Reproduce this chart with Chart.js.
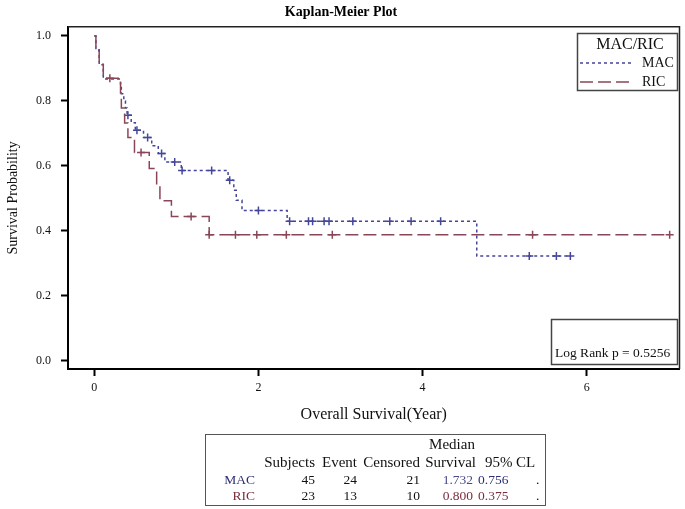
<!DOCTYPE html>
<html><head><meta charset="utf-8">
<script src="https://cdn.jsdelivr.net/npm/chart.js@4"></script>
<style>
html,body{margin:0;padding:0;background:#fff;}
#wrap{position:relative;width:685px;height:509px;overflow:hidden;}
#c{position:absolute;left:0;top:0;}
#tbl{position:absolute;left:205px;top:434px;width:341px;height:72px;border:1.5px solid #555;box-sizing:border-box;}
.c{position:absolute;white-space:nowrap;line-height:16px;height:16px;font-family:"Liberation Serif","Times New Roman",serif;font-size:15px;color:#111;}
.n{font-size:13.5px;}
</style></head>
<body>
<div id="wrap"><canvas id="c" width="685" height="509"></canvas><div id="tbl"></div></div>
<script>
// ---- data ----
const groupNames = ['MAC', 'RIC'];
// MAC: event times and survival right after each event (first point = start)
const macTimes = [0, 0.02, 0.06, 0.11, 0.32, 0.33, 0.36, 0.38, 0.40, 0.45, 0.50, 0.60, 0.70, 0.78, 0.86, 1.06, 1.63, 1.70, 1.73, 1.80, 2.35, 4.66];
const macSurv  = [1.0, 0.956, 0.911, 0.867, 0.844, 0.822, 0.800, 0.778, 0.756, 0.733, 0.710, 0.687, 0.662, 0.638, 0.612, 0.586, 0.556, 0.525, 0.494, 0.463, 0.430, 0.323];
const macCensored = [0.41, 0.52, 0.65, 0.82, 0.98, 1.07, 1.43, 1.65, 2.00, 2.38, 2.61, 2.66, 2.80, 2.86, 3.15, 3.60, 3.86, 4.22, 5.30, 5.63, 5.80];
// RIC
const ricTimes = [0, 0.02, 0.06, 0.11, 0.32, 0.33, 0.37, 0.41, 0.49, 0.67, 0.76, 0.80, 0.94, 1.40];
const ricSurv  = [1.0, 0.957, 0.913, 0.870, 0.824, 0.778, 0.732, 0.687, 0.641, 0.592, 0.542, 0.493, 0.444, 0.388];
const ricCensored = [0.19, 0.57, 1.18, 1.40, 1.72, 1.98, 2.34, 2.90, 5.34, 7.01];
// axis ticks
const xTicks = [0, 2, 4, 6];
const yTicks = [0.0, 0.2, 0.4, 0.6, 0.8, 1.0];
// summary table
const tableHeader1 = ['Median'];
const tableHeader2 = ['Subjects', 'Event', 'Censored', 'Survival', '95%', 'CL'];
const subjects = [45, 23];
const events = [24, 13];
const censored = [21, 10];
const medianSurvival = ['1.732', '0.800'];
const lowerCL = ['0.756', '0.375'];
const upperCL = ['.', '.'];
const logRankText = 'Log Rank p = 0.5256';
const legendTitle = 'MAC/RIC';

// ---- styles ----
const SERIF = '"Liberation Serif","Times New Roman",serif';
const colMAC = '#45459a';
const colRIC = '#8a4656';
const dashMAC = [3, 3];
const dashRIC = [13, 5];

function stepPts(times, surv, endT) {
  const pts = times.map((t, i) => ({x: t, y: surv[i]}));
  pts.push({x: endT, y: surv[surv.length - 1]});
  return pts;
}
function survAt(times, surv, t) {
  let s = surv[0];
  for (let i = 0; i < times.length; i++) if (times[i] <= t) s = surv[i];
  return s;
}
const macEnd = macCensored[macCensored.length - 1];
const ricEnd = ricCensored[ricCensored.length - 1];

Chart.defaults.font.family = SERIF;
Chart.defaults.color = '#111';

const decor = {
  id: 'decor',
  afterDraw(chart) {
    const ctx = chart.ctx, a = chart.chartArea;
    ctx.save();
    // frame
    ctx.strokeStyle = '#222'; ctx.lineWidth = 1.5; ctx.setLineDash([]);
    ctx.beginPath(); ctx.moveTo(a.left, a.top); ctx.lineTo(a.right, a.top); ctx.lineTo(a.right, a.bottom); ctx.stroke();
    // legend box
    ctx.strokeStyle = '#444'; ctx.lineWidth = 1.5;
    ctx.strokeRect(577.5, 33.5, 100, 57);
    ctx.fillStyle = '#111'; ctx.font = '16px ' + SERIF; ctx.textBaseline = 'middle';
    ctx.textAlign = 'center'; ctx.fillText(legendTitle, 630, 45);
    ctx.textAlign = 'left'; ctx.font = '14px ' + SERIF;
    const rows = [[groupNames[0], colMAC, dashMAC, 63], [groupNames[1], colRIC, dashRIC, 82]];
    rows.forEach(([name, col, dash, y]) => {
      ctx.strokeStyle = col; ctx.lineWidth = 1.5; ctx.setLineDash(dash);
      ctx.beginPath(); ctx.moveTo(580, y); ctx.lineTo(631, y); ctx.stroke();
      ctx.setLineDash([]); ctx.fillStyle = '#111'; ctx.fillText(name, 642, y);
    });
    // log rank box
    ctx.strokeStyle = '#444'; ctx.lineWidth = 1.5; ctx.setLineDash([]);
    ctx.strokeRect(551.5, 319.5, 126, 45);
    ctx.font = '13.5px ' + SERIF; ctx.fillStyle = '#111'; ctx.textAlign = 'left';
    ctx.fillText(logRankText, 555, 353);
    ctx.restore();
  }
};

new Chart(document.getElementById('c'), {
  type: 'scatter',
  data: {
    datasets: [
      {type: 'line', label: groupNames[1], data: stepPts(ricTimes, ricSurv, ricEnd), stepped: true,
       borderColor: colRIC, borderDash: dashRIC, borderWidth: 1.5, pointRadius: 0, fill: false},
      {type: 'scatter', label: groupNames[1] + ' censored', data: ricCensored.map(t => ({x: t, y: survAt(ricTimes, ricSurv, t)})),
       pointStyle: 'cross', pointRadius: 4, borderColor: colRIC, borderWidth: 1.5},
      {type: 'line', label: groupNames[0], data: stepPts(macTimes, macSurv, macEnd), stepped: true,
       borderColor: colMAC, borderDash: dashMAC, borderWidth: 1.5, pointRadius: 0, fill: false},
      {type: 'scatter', label: groupNames[0] + ' censored', data: macCensored.map(t => ({x: t, y: survAt(macTimes, macSurv, t)})),
       pointStyle: 'cross', pointRadius: 4, borderColor: colMAC, borderWidth: 1.5}
    ]
  },
  options: {
    responsive: false, animation: false, devicePixelRatio: 1,
    layout: {padding: {top: 0, right: 3, bottom: 80, left: 0}},
    plugins: {
      legend: {display: false}, tooltip: {enabled: false},
      title: {display: true, text: 'Kaplan-Meier Plot', color: '#000',
              font: {family: SERIF, size: 14, weight: 'bold'}, padding: {top: 4, bottom: 6}}
    },
    scales: {
      x: {type: 'linear', min: -0.32, max: 7.13,
          afterBuildTicks: s => { s.ticks = xTicks.map(v => ({value: v})); },
          afterFit: s => { s.height = 60; },
          ticks: {font: {size: 12, family: SERIF}, color: '#111', padding: 5, maxRotation: 0, callback: v => String(v)},
          grid: {drawOnChartArea: false, drawTicks: true, tickLength: 7, tickWidth: 2, tickColor: '#000'},
          border: {display: true, color: '#000', width: 2},
          title: {display: true, text: 'Overall Survival(Year)', color: '#111', font: {family: SERIF, size: 16}, padding: {top: 0, bottom: 5}}},
      y: {type: 'linear', min: -0.025, max: 1.028,
          afterBuildTicks: s => { s.ticks = yTicks.map(v => ({value: v})); },
          afterFit: s => { s.width = 68; },
          ticks: {font: {size: 12, family: SERIF}, color: '#111', padding: 10, callback: v => Number(v).toFixed(1)},
          grid: {drawOnChartArea: false, drawTicks: true, tickLength: 7, tickWidth: 2, tickColor: '#000'},
          border: {display: true, color: '#000', width: 2},
          title: {display: true, text: 'Survival Probability', color: '#111', font: {family: SERIF, size: 14}, padding: {top: 5, bottom: 0}}}
    }
  },
  plugins: [decor]
});

// ---- summary table (HTML text) ----
const wrap = document.getElementById('wrap');
function cell(text, x, y, align, color, cls) {
  const d = document.createElement('div');
  d.className = 'c' + (cls ? ' ' + cls : ''); d.textContent = text;
  d.style.top = (y - 8) + 'px';
  if (align === 'right') d.style.right = (685 - x) + 'px';
  else if (align === 'center') { d.style.left = (x - 50) + 'px'; d.style.width = '100px'; d.style.textAlign = 'center'; }
  else d.style.left = x + 'px';
  if (color) d.style.color = color;
  wrap.appendChild(d);
}
const rowCols = ['#2e2e78', '#7b2e3e'];
const valCols = ['#4a4a88', '#7b2e3e'];
cell(tableHeader1[0], 452, 444, 'center');
const hdrX = [[315, 'right'], [357, 'right'], [420, 'right'], [476, 'right'], [485, 'left'], [516, 'left']];
tableHeader2.forEach((h, i) => cell(h, hdrX[i][0], 462, hdrX[i][1]));
[480, 496].forEach((y, r) => {
  cell(groupNames[r], 255, y, 'right', rowCols[r], 'n');
  cell(String(subjects[r]), 315, y, 'right', null, 'n');
  cell(String(events[r]), 357, y, 'right', null, 'n');
  cell(String(censored[r]), 420, y, 'right', null, 'n');
  cell(medianSurvival[r], 473, y, 'right', valCols[r], 'n');
  cell(lowerCL[r], 478, y, 'left', rowCols[r], 'n');
  cell(upperCL[r], 536, y, 'left', null, 'n');
});
</script>
</body></html>
